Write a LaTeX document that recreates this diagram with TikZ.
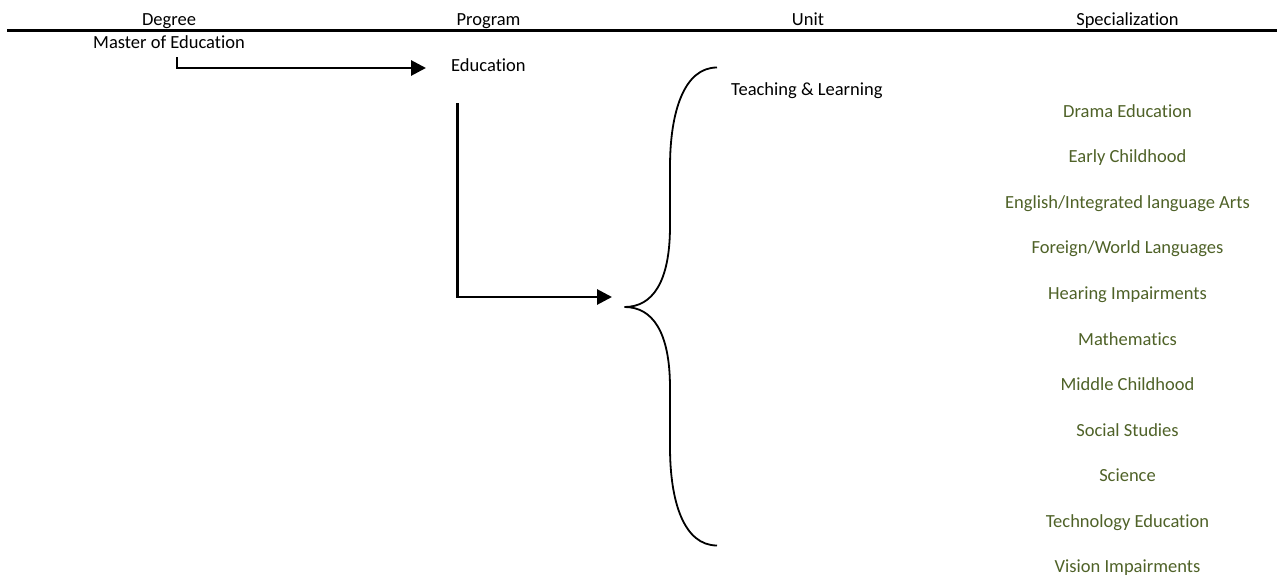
\documentclass[tikz,border=0pt]{standalone}
\usepackage{fontspec}
\setmainfont{Carlito}[Ligatures={NoCommon,NoContextual}]
\usetikzlibrary{arrows.meta}
\definecolor{specgreen}{HTML}{4F6228}
\tikzset{
  txt/.style={inner sep=0pt, font=\fontsize{18.5}{22}\selectfont},
  hdr/.style={txt, anchor=base},
  spec/.style={txt, anchor=base, text=specgreen},
  conn/.style={line width=2.9pt, -{Triangle[length=15pt,width=15pt]}},
  bracestyle/.style={line width=1.8pt},
}
\begin{document}
\begin{tikzpicture}[x=1pt,y=-1pt]
\useasboundingbox[fill=white] (0,0) rectangle (1277,577);
% headers
\node[hdr] (hDeg) at (169,25.5) {Degree};
\node[hdr] (hProg) at (488.5,25.5) {Program};
\node[hdr] (hUnit) at (808,25.5) {Unit};
\node[hdr] (hSpec) at (1127.5,25.5) {Specialization};
\coordinate (ruleL) at (7,30.5);
\coordinate (ruleR) at (1277,30.5);
\draw[line width=2.2pt] (ruleL) -- (ruleR);
% degree
\node[hdr] (master) at (169,49) {Master of Education};
% program
\node[txt, anchor=base west] (edu) at (451,72) {Education};
% unit
\node[txt, anchor=base west] (unit) at (731,95.5) {Teaching \& Learning};
% arrow 1
\coordinate (a1s) at (177,57.5);
\coordinate (a1e) at (426,68);
\draw[conn] (a1s) |- (a1e);
% arrow 2
\coordinate (a2s) at (457.5,103.5);
\coordinate (a2e) at (612,297);
\draw[conn] (a2s) |- (a2e);
% brace
\coordinate (brTop) at (717,67.5);
\coordinate (brTip) at (624.5,307);
\coordinate (brBot) at (717,545.5);
\draw[bracestyle] (brTop) .. controls (684,67.5) and (670,112) .. (670,167)
  -- (670,226) .. controls (670,283) and (652,307) .. (brTip)
  .. controls (652,307) and (670,331) .. (670,388)
  -- (670,447) .. controls (670,502) and (684,545.5) .. (brBot);
% specializations
\node[spec] (s1) at (1127.5,117.5) {Drama Education};
\node[spec] (s2) at (1127.5,163) {Early Childhood};
\node[spec] (s3) at (1127.5,208.5) {English/Integrated language Arts};
\node[spec] (s4) at (1127.5,254) {Foreign/World Languages};
\node[spec] (s5) at (1127.5,299.5) {Hearing Impairments};
\node[spec] (s6) at (1127.5,345) {Mathematics};
\node[spec] (s7) at (1127.5,390.5) {Middle Childhood};
\node[spec] (s8) at (1127.5,436) {Social Studies};
\node[spec] (s9) at (1127.5,481.5) {Science};
\node[spec] (s10) at (1127.5,527) {Technology Education};
\node[spec] (s11) at (1127.5,572.5) {Vision Impairments};
\end{tikzpicture}
\end{document}
